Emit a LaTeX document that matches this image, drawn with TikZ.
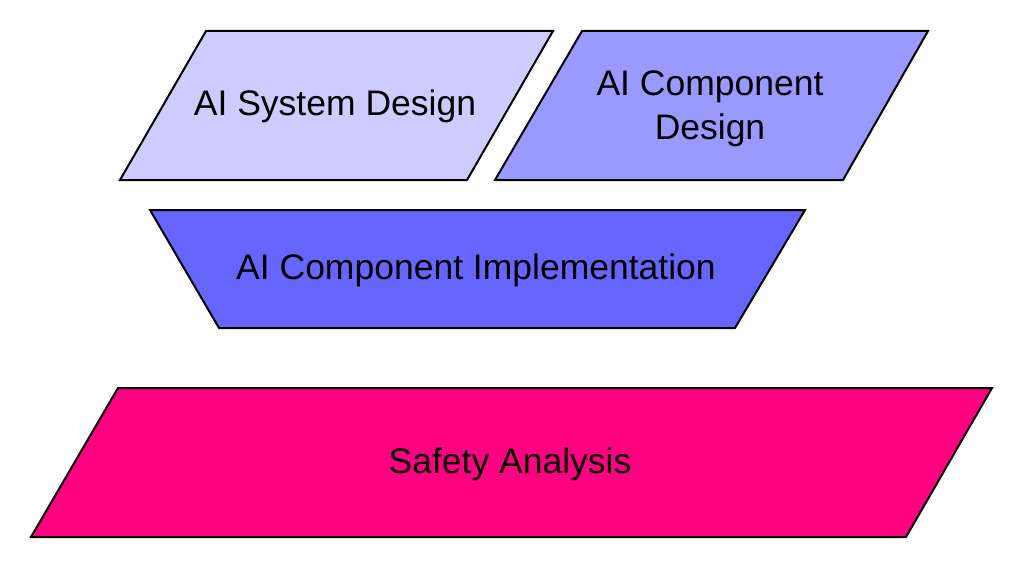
\documentclass[tikz,border=0pt]{standalone}
\usepackage{fontspec}
\setmainfont{Liberation Sans}
\definecolor{c1}{HTML}{CCCCFF}
\definecolor{c2}{HTML}{9999FF}
\definecolor{c3}{HTML}{6666FF}
\definecolor{c4}{HTML}{FF0080}
\tikzset{
  shp/.style={draw=black, line width=2pt, line join=miter},
  lbl/.style={font=\fontsize{35.5}{44}\selectfont, align=center, inner sep=0pt, text=black}
}
\begin{document}
\begin{tikzpicture}[x=1pt,y=-1pt]
\useasboundingbox (0,0) rectangle (1024,572);
\fill[white] (0,0) rectangle (1024,572);
\draw[shp, fill=c1] (206,31) -- (553,31) -- (467,180) -- (120,180) -- cycle;
\draw[shp, fill=c2] (582,31) -- (928,31) -- (843,180) -- (495,180) -- cycle;
\draw[shp, fill=c3] (150,210) -- (805,210) -- (735,328) -- (219,328) -- cycle;
\draw[shp, fill=c4] (118,388) -- (992,388) -- (906,537) -- (31,537) -- cycle;
\node[lbl] (sys) at (335,106) {AI System Design};
\node[lbl] (comp) at (710,109) {AI Component\\Design};
\node[lbl] (impl) at (476,270) {AI Component Implementation};
\node[lbl] (safe) at (510,464) {Safety Analysis};
\end{tikzpicture}
\end{document}
